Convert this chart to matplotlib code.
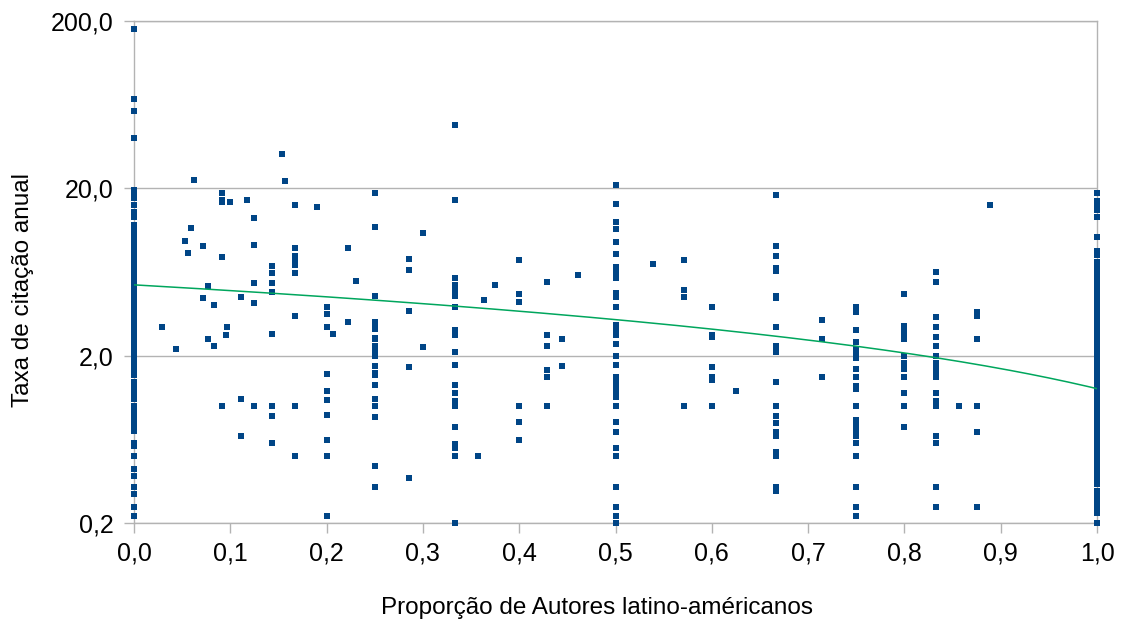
import numpy as np
import matplotlib
matplotlib.use("Agg")
from matplotlib import pyplot as plt
from matplotlib import ticker

plt.rcParams['font.family'] = ['Liberation Sans', 'DejaVu Sans']

# proporção de autores latino-americanos em cada artigo
proporcoes = [0.0, 0.0286, 0.0435, 0.0526, 0.0556, 0.0588, 0.0625, 0.0714, 0.0769,
              0.0833, 0.0909, 0.0952, 0.0968, 0.1, 0.1111, 0.1176, 0.125, 0.1429,
              0.1538, 0.1563, 0.1667, 0.1905, 0.2, 0.2069, 0.2222, 0.2308, 0.25,
              0.2857, 0.3, 0.3333, 0.3571, 0.3636, 0.375, 0.4, 0.4286, 0.4444,
              0.4615, 0.5, 0.5385, 0.5714, 0.6, 0.625, 0.6667, 0.7143, 0.75, 0.8,
              0.8333, 0.8571, 0.875, 0.8889, 1.0]

# taxa de citação anual dos artigos com cada proporção
taxas = [
    [178, 68, 58, 40, 19.5, 18.8, 18.2, 17.5, 16.0, 14.5, 14.0, 13.5, 12.0, 11.3,
     10.5, 10.1, 9.8, 9.4, 9.0, 8.7, 8.4, 8.0, 7.6, 7.3, 7.0, 6.8, 6.5, 6.3, 6.1,
     5.9, 5.7, 5.5, 5.3, 5.1, 4.9, 4.7, 4.5, 4.3, 4.1, 4.0, 3.8, 3.6, 3.5, 3.3,
     3.2, 3.0, 2.9, 2.8, 2.7, 2.6, 2.5, 2.4, 2.3, 2.2, 2.1, 2.0, 1.95, 1.9, 1.85,
     1.8, 1.75, 1.7, 1.65, 1.53, 1.4, 1.35, 1.3, 1.25, 1.2, 1.15, 1.1, 1.0, 0.92,
     0.89, 0.86, 0.83, 0.8, 0.77, 0.74, 0.71, 0.6, 0.58, 0.5, 0.42, 0.38, 0.33,
     0.3, 0.25, 0.22],
    [2.95],
    [2.2],
    [9.7],
    [8.2],
    [11.6],
    [22.3],
    [9.0, 4.4],
    [5.2, 2.5],
    [4.0, 2.3],
    [18.7, 17.0, 16.5, 7.8, 1.0],
    [2.65],
    [2.95],
    [16.5],
    [4.5, 1.1, 0.66],
    [17.0],
    [13.3, 9.2, 5.4, 4.1, 1.0],
    [6.9, 6.2, 5.4, 4.8, 2.7, 1.0, 0.875, 0.6],
    [32],
    [22.2],
    [15.9, 8.8, 7.9, 7.3, 7.0, 6.2, 3.45, 1.0, 0.5],
    [15.5],
    [3.9, 3.55, 2.95, 1.56, 1.23, 1.09, 0.89, 0.63, 0.5, 0.22],
    [2.7],
    [8.8, 3.2],
    [5.6],
    [18.7, 11.7, 4.55, 3.2, 3.05, 2.9, 2.55, 2.5, 2.3, 2.1, 2.0, 1.73, 1.58, 1.53,
     1.33, 1.1, 1.0, 0.86, 0.44, 0.33],
    [7.6, 6.5, 3.7, 1.7, 0.37],
    [10.8, 2.25],
    [48, 17.0, 5.8, 5.3, 4.9, 4.55, 3.9, 2.85, 2.75, 2.65, 2.1, 1.76, 1.33, 1.2,
     1.07, 1.0, 0.75, 0.59, 0.56, 0.5, 0.2],
    [0.5],
    [4.3],
    [5.3],
    [7.5, 4.7, 4.2, 1.0, 0.8, 0.63],
    [5.5, 2.65, 2.3, 1.65, 1.5, 1.0],
    [2.5, 1.73],
    [6.1],
    [20.9, 16.2, 12.6, 11.5, 9.6, 8.1, 6.8, 6.3, 5.8, 4.75, 4.5, 3.9, 3.05, 2.9,
     2.85, 2.65, 2.35, 2.0, 1.76, 1.5, 1.41, 1.31, 1.22, 1.14, 1.0, 0.8, 0.7, 0.56,
     0.5, 0.33, 0.25, 0.22, 0.2],
    [7.1],
    [7.5, 4.95, 4.5, 1.0],
    [3.9, 2.65, 2.6, 1.72, 1.5, 1.43, 1.0],
    [1.23],
    [18.2, 9.1, 7.9, 6.7, 6.4, 4.55, 4.4, 2.95, 2.3, 2.2, 2.1, 1.4, 1.0, 0.87, 0.79,
     0.7, 0.66, 0.53, 0.5, 0.33, 0.31],
    [3.25, 2.5, 1.5],
    [3.9, 3.65, 2.85, 2.4, 2.2, 2.02, 1.95, 1.66, 1.5, 1.32, 1.27, 1.0, 0.82, 0.79,
     0.76, 0.7, 0.66, 0.6, 0.5, 0.33, 0.25, 0.22],
    [4.7, 3.0, 2.8, 2.65, 2.5, 2.0, 1.8, 1.66, 1.5, 1.2, 1.0, 0.75],
    [6.3, 5.5, 3.4, 2.95, 2.6, 2.3, 2.0, 1.8, 1.66, 1.6, 1.5, 1.2, 1.07, 1.0, 0.66,
     0.6, 0.33, 0.25],
    [1.0],
    [3.65, 3.45, 2.5, 1.0, 0.7, 0.25],
    [15.9],
    [18.7, 16.7, 15.5, 14.8, 13.5, 10.3, 8.5, 8.0, 7.3, 6.9, 6.5, 6.2, 5.8, 5.6,
     5.4, 5.2, 5.0, 4.8, 4.6, 4.4, 4.25, 4.1, 3.95, 3.8, 3.65, 3.5, 3.4, 3.3, 3.2,
     3.1, 3.0, 2.9, 2.8, 2.7, 2.6, 2.5, 2.4, 2.3, 2.2, 2.1, 2.0, 1.95, 1.9, 1.85,
     1.8, 1.75, 1.7, 1.65, 1.6, 1.55, 1.5, 1.45, 1.4, 1.35, 1.3, 1.25, 1.2, 1.15,
     1.1, 1.06, 1.0, 0.96, 0.92, 0.89, 0.86, 0.83, 0.8, 0.77, 0.74, 0.71, 0.68,
     0.66, 0.63, 0.61, 0.58, 0.56, 0.54, 0.52, 0.5, 0.48, 0.46, 0.44, 0.42, 0.4,
     0.38, 0.37, 0.34, 0.31, 0.29, 0.28, 0.27, 0.25, 0.23, 0.2],
]

# linha de tendência linear (y = a + b*x)
tendencia_a = 5.3
tendencia_b = -4.03

x = []
y = []
for prop, valores in zip(proporcoes, taxas):
    x += [prop] * len(valores)
    y += valores

fig = plt.figure(figsize=(11.24, 6.21), dpi=100)
ax = fig.add_axes([0.1192, 0.1578, 0.8568, 0.8084])

ax.set_yscale('log')
ax.set_xlim(0, 1)
ax.set_ylim(0.2, 200)

ax.yaxis.grid(True, color='#b3b3b3', linewidth=1)
ax.set_axisbelow(True)

# pontos nas bordas (0 e 1) ficam sobre os eixos, sem corte
ax.scatter(x, y, marker='s', s=14, color='#004586', linewidths=0, zorder=3,
           clip_on=False)

xt = np.linspace(0, 1, 200)
ax.plot(xt, tendencia_a + tendencia_b * xt, color='#00a65d', linewidth=1.1, zorder=4)

virgula = lambda v, pos: ('%.1f' % v).replace('.', ',')
ax.set_xticks(np.arange(0, 1.01, 0.1))
ax.set_yticks([0.2, 2, 20, 200])
ax.yaxis.set_minor_locator(ticker.NullLocator())
ax.xaxis.set_major_formatter(ticker.FuncFormatter(virgula))
ax.yaxis.set_major_formatter(ticker.FuncFormatter(virgula))

for s in ax.spines.values():
    s.set_color('#b3b3b3')
    s.set_linewidth(1)
ax.tick_params(axis='both', colors='#b3b3b3', labelcolor='black', labelsize=18,
               length=7, width=1)
ax.tick_params(axis='x', pad=6)
ax.tick_params(axis='y', pad=7.5)

ax.set_xlabel('Proporção de Autores latino-américanos', fontsize=17.5, labelpad=23)
ax.set_ylabel('Taxa de citação anual', fontsize=17.5, labelpad=12)
ax.xaxis.label.set_x(0.481)
ax.yaxis.label.set_y(0.464)

plt.savefig('out.png', dpi=100)
